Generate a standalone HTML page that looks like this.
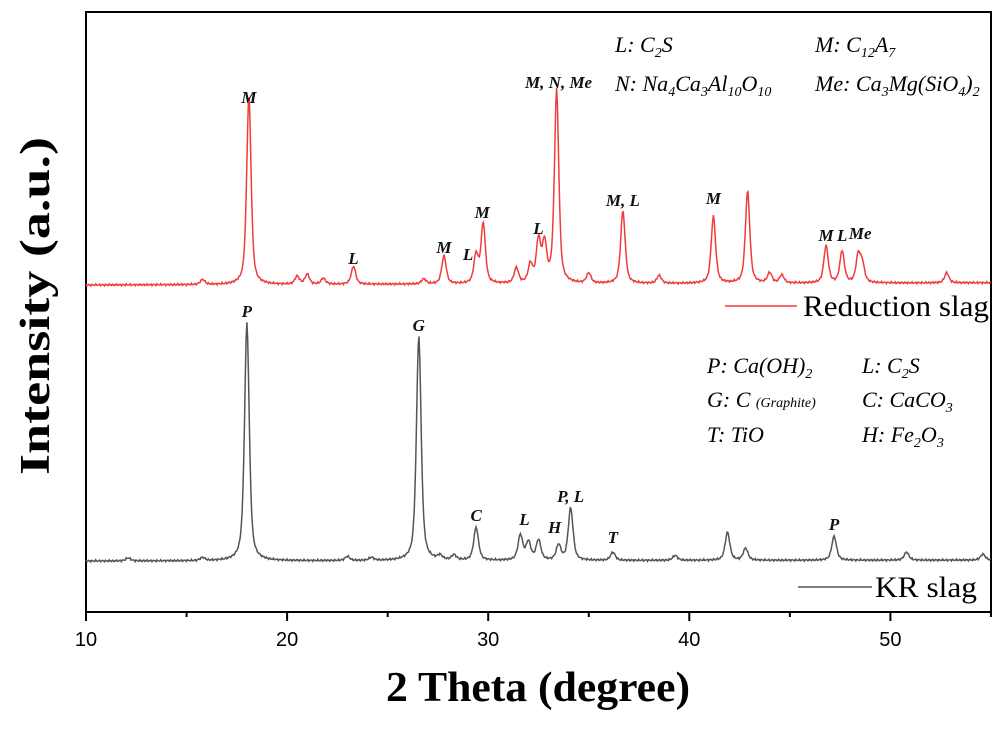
<!DOCTYPE html>
<html><head><meta charset="utf-8"><style>
body{margin:0;background:#fff;width:1006px;height:724px;overflow:hidden}
svg text{font-family:"Liberation Serif",serif}
</style></head><body>
<svg id="chart" width="1006" height="724" viewBox="0 0 1006 724" xmlns="http://www.w3.org/2000/svg">
<rect x="86" y="12" width="905" height="600" fill="none" stroke="#000" stroke-width="2"/>
<g id="series"></g>
<g id="ticks"></g>
<g id="labels" font-style="italic" font-weight="bold" font-size="17" fill="#111" text-anchor="middle"></g>
<text x="386" y="701" font-size="42" font-weight="bold" textLength="304" lengthAdjust="spacingAndGlyphs">2 Theta (degree)</text>
<text transform="translate(49,475) rotate(-90)" font-size="42" font-weight="bold" textLength="338" lengthAdjust="spacingAndGlyphs">Intensity (a.u.)</text>
<g>
<line x1="725" y1="306" x2="797" y2="306" stroke="#f03c3c" stroke-width="1.5"/>
<text x="803" y="316" font-size="30" textLength="186" lengthAdjust="spacingAndGlyphs">Reduction slag</text></g>
<g>
<line x1="798" y1="587" x2="872" y2="587" stroke="#555" stroke-width="1.5"/>
<text x="875" y="597" font-size="30" textLength="102" lengthAdjust="spacingAndGlyphs">KR slag</text></g>
<g font-style="italic" font-size="22">
<text x="615" y="52">L: C<tspan font-size="14" dy="5">2</tspan><tspan dy="-5">S</tspan></text>
<text x="815" y="52">M: C<tspan font-size="14" dy="5">12</tspan><tspan dy="-5">A</tspan><tspan font-size="14" dy="5">7</tspan></text>
<text x="615" y="91">N: Na<tspan font-size="14" dy="5">4</tspan><tspan dy="-5">Ca</tspan><tspan font-size="14" dy="5">3</tspan><tspan dy="-5">Al</tspan><tspan font-size="14" dy="5">10</tspan><tspan dy="-5">O</tspan><tspan font-size="14" dy="5">10</tspan></text>
<text x="815" y="91">Me: Ca<tspan font-size="14" dy="5">3</tspan><tspan dy="-5">Mg(SiO</tspan><tspan font-size="14" dy="5">4</tspan><tspan dy="-5">)</tspan><tspan font-size="14" dy="5">2</tspan></text>
</g>
<g font-style="italic" font-size="22">
<text x="707" y="373">P: Ca(OH)<tspan font-size="14" dy="5">2</tspan></text>
<text x="862" y="373">L: C<tspan font-size="14" dy="5">2</tspan><tspan dy="-5">S</tspan></text>
<text x="707" y="407">G: C <tspan font-size="14">(Graphite)</tspan></text>
<text x="862" y="407">C: CaCO<tspan font-size="14" dy="5">3</tspan></text>
<text x="707" y="442">T: TiO</text>
<text x="862" y="442">H: Fe<tspan font-size="14" dy="5">2</tspan><tspan dy="-5">O</tspan><tspan font-size="14" dy="5">3</tspan></text>
</g>
</svg>
<script>
const xTicks=[10,20,30,40,50];
const redPos=[15.8,18.1,20.5,21.0,21.8,23.3,26.8,27.8,29.4,29.75,31.4,32.1,32.5,32.8,33.4,35.0,36.7,38.5,41.2,42.9,44.0,44.6,46.8,47.6,48.4,48.6,52.8];
const redH=[5,190,8,10,6,18,5,28,28,60,15,18,42,38,193,10,73,8,67,92,10,8,37,32,27,18,10];
const krPos=[12.1,15.8,18.0,23.0,24.2,26.55,27.6,28.3,29.4,31.6,32.0,32.5,33.5,34.1,36.2,39.3,41.9,42.8,47.2,50.8,54.6];
const krH=[3,3,238,4,3,225,4,5,33,25,18,20,15,52,8,5,28,12,24,8,6];
const redLabels=[["M",18.1,103],["L",23.3,264],["M",27.8,253],["L",29.0,260],["M",29.7,218],["L",32.5,234],["M, N, Me",33.5,88],["M, L",36.7,206],["M",41.2,204],["M",46.8,241],["L",47.6,241],["Me",48.5,239]];
const krLabels=[["P",18.0,317],["G",26.55,331],["C",29.4,521],["L",31.8,525],["H",33.3,533],["P, L",34.1,502],["T",36.2,543],["P",47.2,530]];
const X=v=>86+(v-10)*20.11;
const NS="http://www.w3.org/2000/svg";
function spectrum(pos,h,base,slope,w){
  let d="";
  for(let t=10;t<=55.001;t+=0.04){
    let y=base-slope*(t-10);
    for(let i=0;i<pos.length;i++){const z=(t-pos[i])/w;y-=h[i]*(0.6/(1+z*z)+0.4*Math.exp(-z*z*0.7));}
    y+=Math.sin(t*37)*0.6+Math.sin(t*91)*0.5;
    d+=(d?"L":"M")+X(t).toFixed(1)+","+y.toFixed(1);
  }
  return d;
}
const g=document.getElementById("series");
const pr=document.createElementNS(NS,"path");
pr.setAttribute("d",spectrum(redPos,redH,285,0.05,0.13));
pr.setAttribute("fill","none");pr.setAttribute("stroke","#f03c3c");pr.setAttribute("stroke-width","1.5");


g.appendChild(pr);
const pk=document.createElementNS(NS,"path");
pk.setAttribute("d",spectrum(krPos,krH,561,0.02,0.14));
pk.setAttribute("fill","none");pk.setAttribute("stroke","#555");pk.setAttribute("stroke-width","1.5");


g.appendChild(pk);
const tg=document.getElementById("ticks");
for(let v=10;v<=55;v+=5){
  const l=document.createElementNS(NS,"line");
  const major=v%10===0;
  l.setAttribute("x1",X(v));l.setAttribute("x2",X(v));l.setAttribute("y1",612);l.setAttribute("y2",major?621:617);
  l.setAttribute("stroke","#000");l.setAttribute("stroke-width","2");
  
  
  tg.appendChild(l);
}
xTicks.forEach(v=>{
  const t=document.createElementNS(NS,"text");
  t.setAttribute("x",X(v));t.setAttribute("y",646);t.setAttribute("text-anchor","middle");
  t.setAttribute("font-size","20");t.setAttribute("style","font-family:'Liberation Sans',sans-serif");
  t.textContent=v;
  
  
  tg.appendChild(t);
});
const lg=document.getElementById("labels");
redLabels.concat(krLabels).forEach(a=>{
  const t=document.createElementNS(NS,"text");
  t.setAttribute("x",X(a[1]));t.setAttribute("y",a[2]);t.textContent=a[0];
  
  
  lg.appendChild(t);
});
</script>
</body></html>
